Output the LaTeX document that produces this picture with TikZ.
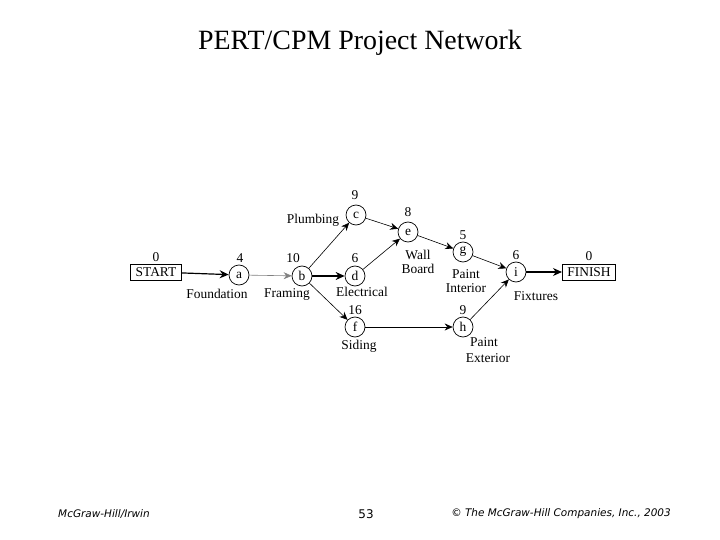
\documentclass[tikz,border=0pt]{standalone}
\usepackage{fontspec}
\setmainfont{Liberation Serif}
\newfontfamily\footfont{DejaVu Sans}
\usetikzlibrary{arrows.meta}
\begin{document}
\begin{tikzpicture}[x=1bp,y=-1bp,
  ev/.style={circle,draw,line width=0.7pt,minimum size=20bp,inner sep=0pt,font=\fontsize{13.5}{13.5}\selectfont},
  endbox/.style={rectangle,draw,line width=0.7pt,minimum height=16bp,inner ysep=2bp,inner xsep=5bp,font=\fontsize{13.5}{13.5}\selectfont},
  lab/.style={font=\fontsize{13.5}{14}\selectfont,align=center,inner sep=0pt},
  con/.style={line width=0.6pt,-{Stealth[length=8bp,width=7bp]}},
  thick con/.style={line width=1.2pt,-{Stealth[length=9bp,width=8bp]}},
  foot/.style={font=\footfont\itshape\fontsize{10.5}{11}\selectfont,inner sep=0pt}]
\useasboundingbox (0,0) rectangle (720,540);
\node[font=\fontsize{28}{29}\selectfont] (title) at (360,43) {PERT/CPM Project Network};

\node[endbox] (start) at (156,272) {START};
\node[ev] (a) at (239,275) {a};
\node[ev] (b) at (302,276) {b};
\node[ev] (c) at (356,215) {c};
\node[ev] (d) at (355,276) {d};
\node[ev] (e) at (408,232) {e};
\node[ev] (f) at (355,327) {f};
\node[ev] (g) at (463,252) {g};
\node[ev] (h) at (463,327) {h};
\node[ev] (i) at (516,272) {i};
\node[endbox] (finish) at (589,272) {FINISH};

\node[lab] (n0) at (156,257) {0};
\node[lab] (n4) at (240,258) {4};
\node[lab] (n10) at (293,258) {10};
\node[lab] (n9c) at (355,195) {9};
\node[lab] (n6d) at (355,258) {6};
\node[lab] (n8) at (408,212) {8};
\node[lab] (n16) at (355,310) {16};
\node[lab] (n5) at (463,235) {5};
\node[lab] (n9h) at (463,310) {9};
\node[lab] (n6i) at (516,255) {6};
\node[lab] (n0f) at (589,256) {0};

\node[lab] (lfound) at (217,294) {Foundation};
\node[lab] (lfram) at (287,294) {Framing};
\node[lab] (lplumb) at (313,220) {Plumbing};
\node[lab] (lelec) at (362,292) {Electrical};
\node[lab] (lwall) at (418,262) {Wall\\Board};
\node[lab] (lsid) at (359,346) {Siding};
\node[lab] (lpi) at (466,281) {Paint\\Interior};
\node[lab] (lpe1) at (484,342) {Paint};
\node[lab] (lpe2) at (488,358) {Exterior};
\node[lab] (lfix) at (536,296) {Fixtures};

\draw[thick con] (start) -- (a);
\draw[con,gray] (a) -- (b);
\draw[con] (b) -- (c);
\draw[thick con] (b) -- (d);
\draw[con] (b) -- (f);
\draw[con] (c) -- (e);
\draw[con] (d) -- (e);
\draw[con] (e) -- (g);
\draw[con] (g) -- (i);
\draw[con] (f) -- (h);
\draw[con] (h) -- (i);
\draw[thick con] (i) -- (finish);

\node[foot] (f1) at (104,514) {McGraw-Hill/Irwin};
\node[foot,font=\footfont\fontsize{12}{12}\selectfont] (f2) at (366,514) {53};
\node[foot] (f3) at (561,514) {© The McGraw-Hill Companies, Inc., 2003};
\end{tikzpicture}
\end{document}
